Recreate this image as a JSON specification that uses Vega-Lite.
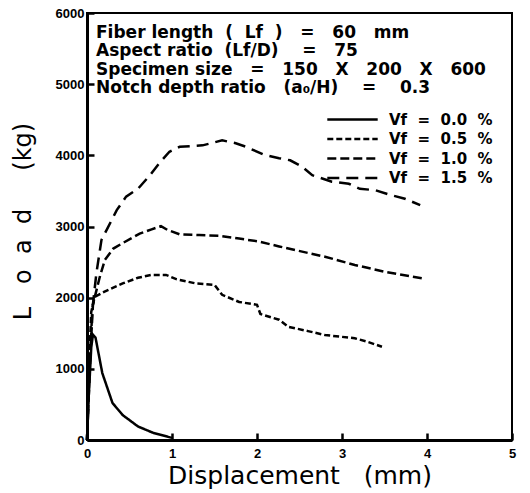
{
  "$schema": "https://vega.github.io/schema/vega-lite/v6.json",
  "width": 425,
  "height": 427,
  "autosize": {"type": "none"},
  "padding": {"left": 87, "top": 13, "right": 18, "bottom": 53},
  "background": "white",
  "title": {
    "text": ["Fiber length\u00a0 (\u00a0 Lf\u00a0 )\u00a0\u00a0 =\u00a0\u00a0 60\u00a0\u00a0 mm", "Aspect ratio\u00a0 (Lf/D)\u00a0\u00a0\u00a0 =\u00a0\u00a0 75", "Specimen size\u00a0\u00a0 =\u00a0\u00a0 150\u00a0\u00a0 X\u00a0\u00a0 200\u00a0\u00a0 X\u00a0\u00a0 600", "Notch depth ratio\u00a0\u00a0 (a₀/H)\u00a0\u00a0\u00a0 =\u00a0\u00a0\u00a0 0.3"],
    "anchor": "start",
    "frame": "group",
    "orient": "top",
    "baseline": "top",
    "offset": -90,
    "dx": 9,
    "font": "DejaVu Sans",
    "fontWeight": "bold",
    "fontSize": 17,
    "lineHeight": 18.5,
    "color": "black"
  },
  "data": {
    "values": [
      {"vf": "0.0", "d": 0, "load": 0},
      {"vf": "0.0", "d": 0.02, "load": 600},
      {"vf": "0.0", "d": 0.05, "load": 1300},
      {"vf": "0.0", "d": 0.07, "load": 1480},
      {"vf": "0.0", "d": 0.1, "load": 1440},
      {"vf": "0.0", "d": 0.18, "load": 940},
      {"vf": "0.0", "d": 0.3, "load": 520},
      {"vf": "0.0", "d": 0.42, "load": 350},
      {"vf": "0.0", "d": 0.6, "load": 190},
      {"vf": "0.0", "d": 0.78, "load": 100},
      {"vf": "0.0", "d": 1.0, "load": 30},

      {"vf": "0.5", "d": 0, "load": 0},
      {"vf": "0.5", "d": 0.02, "load": 900},
      {"vf": "0.5", "d": 0.05, "load": 1800},
      {"vf": "0.5", "d": 0.09, "load": 2010},
      {"vf": "0.5", "d": 0.2, "load": 2080},
      {"vf": "0.5", "d": 0.31, "load": 2140},
      {"vf": "0.5", "d": 0.42, "load": 2200},
      {"vf": "0.5", "d": 0.6, "load": 2280},
      {"vf": "0.5", "d": 0.76, "load": 2320},
      {"vf": "0.5", "d": 0.93, "load": 2320},
      {"vf": "0.5", "d": 1.05, "load": 2260},
      {"vf": "0.5", "d": 1.28, "load": 2200},
      {"vf": "0.5", "d": 1.5, "load": 2180},
      {"vf": "0.5", "d": 1.59, "load": 2040},
      {"vf": "0.5", "d": 1.79, "load": 1940},
      {"vf": "0.5", "d": 2.0, "load": 1900},
      {"vf": "0.5", "d": 2.04, "load": 1770},
      {"vf": "0.5", "d": 2.26, "load": 1690},
      {"vf": "0.5", "d": 2.37, "load": 1590},
      {"vf": "0.5", "d": 2.6, "load": 1530},
      {"vf": "0.5", "d": 2.8, "load": 1475},
      {"vf": "0.5", "d": 3.15, "load": 1430},
      {"vf": "0.5", "d": 3.3, "load": 1380},
      {"vf": "0.5", "d": 3.47, "load": 1310},

      {"vf": "1.0", "d": 0, "load": 0},
      {"vf": "1.0", "d": 0.03, "load": 1000},
      {"vf": "1.0", "d": 0.07, "load": 1900},
      {"vf": "1.0", "d": 0.1, "load": 2050},
      {"vf": "1.0", "d": 0.15, "load": 2290},
      {"vf": "1.0", "d": 0.21, "load": 2530},
      {"vf": "1.0", "d": 0.31, "load": 2690},
      {"vf": "1.0", "d": 0.41, "load": 2760},
      {"vf": "1.0", "d": 0.62, "load": 2900},
      {"vf": "1.0", "d": 0.76, "load": 2960},
      {"vf": "1.0", "d": 0.87, "load": 3005},
      {"vf": "1.0", "d": 0.95, "load": 2950},
      {"vf": "1.0", "d": 1.09, "load": 2890},
      {"vf": "1.0", "d": 1.32, "load": 2880},
      {"vf": "1.0", "d": 1.56, "load": 2870},
      {"vf": "1.0", "d": 1.79, "load": 2830},
      {"vf": "1.0", "d": 2.02, "load": 2790},
      {"vf": "1.0", "d": 2.26, "load": 2720},
      {"vf": "1.0", "d": 2.37, "load": 2690},
      {"vf": "1.0", "d": 2.8, "load": 2575},
      {"vf": "1.0", "d": 3.15, "load": 2460},
      {"vf": "1.0", "d": 3.5, "load": 2365},
      {"vf": "1.0", "d": 3.95, "load": 2270},

      {"vf": "1.5", "d": 0, "load": 0},
      {"vf": "1.5", "d": 0.03, "load": 900},
      {"vf": "1.5", "d": 0.06, "load": 1800},
      {"vf": "1.5", "d": 0.11, "load": 2340},
      {"vf": "1.5", "d": 0.17, "load": 2810},
      {"vf": "1.5", "d": 0.23, "load": 2950},
      {"vf": "1.5", "d": 0.35, "load": 3230},
      {"vf": "1.5", "d": 0.46, "load": 3420},
      {"vf": "1.5", "d": 0.6, "load": 3530},
      {"vf": "1.5", "d": 0.74, "load": 3720},
      {"vf": "1.5", "d": 0.85, "load": 3890},
      {"vf": "1.5", "d": 0.97, "load": 4050},
      {"vf": "1.5", "d": 1.09, "load": 4120},
      {"vf": "1.5", "d": 1.36, "load": 4140},
      {"vf": "1.5", "d": 1.59, "load": 4210},
      {"vf": "1.5", "d": 1.75, "load": 4170},
      {"vf": "1.5", "d": 1.87, "load": 4120},
      {"vf": "1.5", "d": 2.08, "load": 4010},
      {"vf": "1.5", "d": 2.26, "load": 3960},
      {"vf": "1.5", "d": 2.39, "load": 3930},
      {"vf": "1.5", "d": 2.53, "load": 3840},
      {"vf": "1.5", "d": 2.65, "load": 3720},
      {"vf": "1.5", "d": 2.88, "load": 3630},
      {"vf": "1.5", "d": 3.08, "load": 3600},
      {"vf": "1.5", "d": 3.21, "load": 3530},
      {"vf": "1.5", "d": 3.39, "load": 3510},
      {"vf": "1.5", "d": 3.58, "load": 3440},
      {"vf": "1.5", "d": 3.74, "load": 3390},
      {"vf": "1.5", "d": 3.92, "load": 3300}
    ]
  },
  "mark": {"type": "line", "color": "black", "strokeWidth": 2.5},
  "encoding": {
    "x": {
      "field": "d", "type": "quantitative",
      "scale": {"domain": [0, 5], "nice": false},
      "axis": {
        "title": "Displacement\u00a0\u00a0 (mm)",
        "values": [0, 1, 2, 3, 4, 5],
        "format": "d",
        "tickSize": -7,
        "tickWidth": 2.5,
        "tickColor": "black",
        "domainWidth": 3,
        "domainColor": "black",
        "grid": false,
        "labelFont": "Liberation Sans",
        "labelFontWeight": "bold",
        "labelFontSize": 13,
        "labelColor": "black",
        "labelPadding": 14,
        "labelFlush": false,
        "titleFont": "DejaVu Sans",
        "titleFontWeight": "normal",
        "titleFontSize": 25,
        "titleColor": "black",
        "titlePadding": 3
      }
    },
    "y": {
      "field": "load", "type": "quantitative",
      "scale": {"domain": [0, 6000], "nice": false},
      "axis": {
        "title": "L\u00a0\u00a0 o\u00a0 a\u00a0 d\u00a0\u00a0\u00a0\u00a0 (kg)",
        "values": [0, 1000, 2000, 3000, 4000, 5000, 6000],
        "tickSize": -7,
        "tickWidth": 2.5,
        "tickColor": "black",
        "domainWidth": 3,
        "domainColor": "black",
        "grid": false,
        "format": "d",
        "labelFont": "Liberation Sans",
        "labelFontWeight": "bold",
        "labelFontSize": 13,
        "labelColor": "black",
        "labelPadding": 10,
        "labelFlush": false,
        "titleFont": "DejaVu Sans",
        "titleFontWeight": "normal",
        "titleFontSize": 24,
        "titleColor": "black",
        "titleX": -52,
        "titleY": 208
      }
    },
    "strokeDash": {
      "field": "vf", "type": "nominal",
      "scale": {"domain": ["0.0", "0.5", "1.0", "1.5"], "range": [[1, 0], [6, 3], [9, 4], [12, 7]]},
      "legend": {
        "title": null,
        "orient": "none",
        "legendX": 255,
        "legendY": 96,
        "symbolType": "M-2.8,0H2.8",
        "symbolSize": 324,
        "symbolStrokeWidth": 2.5,
        "symbolStrokeColor": "black",
        "labelExpr": "'Vf\u00a0 =\u00a0 ' + datum.label + '\u00a0 %'",
        "labelFont": "DejaVu Sans",
        "labelFontWeight": "bold",
        "labelFontSize": 15,
        "labelColor": "black",
        "labelOffset": 26,
        "rowPadding": 0.5
      }
    }
  },
  "config": {
    "view": {"stroke": "black", "strokeWidth": 2}
  }
}
